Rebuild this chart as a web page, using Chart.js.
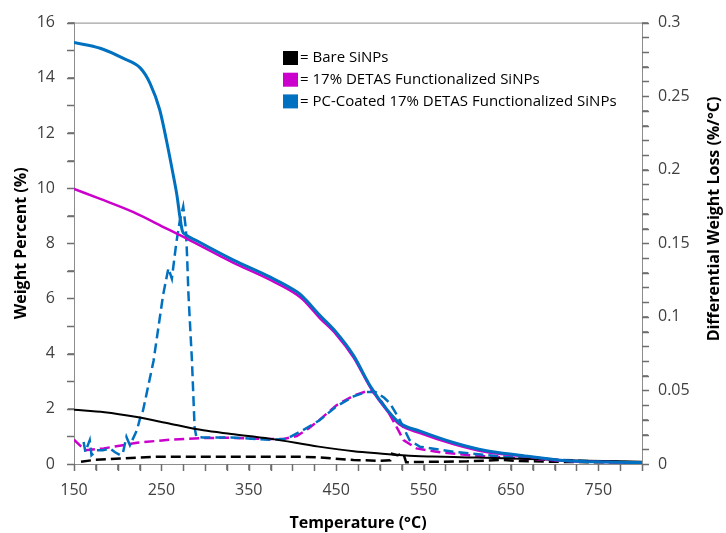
<!DOCTYPE html>
<html>
<head>
<meta charset="utf-8">
<script src="https://cdn.jsdelivr.net/npm/chart.js@4.4.1/dist/chart.umd.min.js"></script>
<style>
  html, body { margin: 0; padding: 0; background: #fff; }
</style>
</head>
<body>
<canvas id="tgaChart" width="726" height="533"></canvas>
<script>
// TGA / DTG curves: weight percent (left axis) and differential weight loss (right axis)

// Bare SiNPs
const bareTemp   = [150, 185, 222, 260, 298, 330, 374, 430, 470, 500, 540, 560, 600, 650, 720, 800];
const bareWeight = [1.97, 1.88, 1.70, 1.46, 1.22, 1.09, 0.92, 0.63, 0.46, 0.38, 0.29, 0.27, 0.24, 0.20, 0.13, 0.08];
const bareDtgTemp = [158, 172, 203, 240, 300, 360, 410, 430, 470, 500, 512, 514, 520, 527, 530, 560, 600, 640, 660, 700, 750, 800];
const bareDtg     = [0.0015, 0.0027, 0.0038, 0.0049, 0.0050, 0.0050, 0.0049, 0.0045, 0.0027, 0.0022, 0.0025, 0.0070, 0.0060, 0.0070, 0.0012, 0.0015, 0.0018, 0.0028, 0.0020, 0.0015, 0.0012, 0.0010];

// 17% DETAS functionalized SiNPs
const detasTemp   = [150, 180, 218, 256, 279, 332, 374, 405, 412, 431, 450, 470, 489, 508, 523, 546, 584, 622, 660, 710, 760, 800];
const detasWeight = [9.97, 9.61, 9.13, 8.53, 8.17, 7.30, 6.68, 6.14, 5.96, 5.30, 4.70, 3.86, 2.78, 1.94, 1.42, 1.12, 0.72, 0.43, 0.30, 0.12, 0.07, 0.04];
const detasDtgTemp = [150, 158, 163, 184, 222, 260, 298, 330, 370, 390, 405, 418, 431, 450, 470, 485, 492, 500, 508, 515, 522, 527, 542, 565, 603, 660, 720, 800];
const detasDtg     = [0.0165, 0.0120, 0.0094, 0.0106, 0.0144, 0.0166, 0.0177, 0.0178, 0.0170, 0.0170, 0.0190, 0.0240, 0.0300, 0.0398, 0.0465, 0.0495, 0.0490, 0.0440, 0.0370, 0.0297, 0.0220, 0.0162, 0.0106, 0.0083, 0.0060, 0.0038, 0.0020, 0.0010];

// PC-coated 17% DETAS functionalized SiNPs
const pcTemp   = [150, 180, 206, 226, 237, 248, 256, 264, 268, 271, 274, 277, 290, 332, 374, 405, 412, 431, 450, 470, 489, 508, 523, 546, 584, 622, 660, 710, 760, 800];
const pcWeight = [15.28, 15.07, 14.71, 14.35, 13.80, 12.85, 11.70, 10.40, 9.70, 9.00, 8.45, 8.33, 8.10, 7.40, 6.78, 6.24, 6.06, 5.40, 4.78, 3.93, 2.83, 1.98, 1.48, 1.19, 0.78, 0.48, 0.32, 0.13, 0.07, 0.05];
const pcDtgTemp = [161, 163, 168, 170, 176, 183, 191, 197, 203, 206, 210, 214, 222, 226, 229, 241, 252, 258, 262, 267, 271, 275, 278, 279.5, 281, 285, 288, 290, 298, 330, 374, 393, 412, 431, 450, 470, 485, 495, 505, 512, 523, 534, 546, 584, 622, 680, 740, 800];
const pcDtg     = [0.0150, 0.0083, 0.0162, 0.0060, 0.0094, 0.0094, 0.0106, 0.0080, 0.0060, 0.0075, 0.0184, 0.0128, 0.0229, 0.0320, 0.0364, 0.0700, 0.1150, 0.1330, 0.1260, 0.1500, 0.1650, 0.1750, 0.1600, 0.1400, 0.1150, 0.0700, 0.0250, 0.0184, 0.0180, 0.0180, 0.0165, 0.0170, 0.0230, 0.0297, 0.0390, 0.0460, 0.0490, 0.0490, 0.0450, 0.0409, 0.0297, 0.0162, 0.0117, 0.0083, 0.0060, 0.0035, 0.0020, 0.0010];

const legendLabels = ['= Bare SiNPs', '= 17% DETAS Functionalized SiNPs', '= PC-Coated 17% DETAS Functionalized SiNPs'];

const BLACK = '#000000';
const MAGENTA = '#CC00CC';
const BLUE = '#0070C0';
const AXIS_GREY = '#8c8c8c';
const TICK_GREY = '#6e6e6e';
const TEXT_GREY = '#404040';
const FONT = "'Open Sans', sans-serif";
const TICK_LEN = 6;

function toPoints(xs, ys) {
    return xs.map((x, i) => ({ x: x, y: ys[i] }));
}

function solidLine(xs, ys, color, width) {
    return {
        data: toPoints(xs, ys), yAxisID: 'y', showLine: true, pointRadius: 0,
        borderColor: color, borderWidth: width, cubicInterpolationMode: 'monotone'
    };
}

function dashedLine(xs, ys, color) {
    return {
        data: toPoints(xs, ys), yAxisID: 'y1', showLine: true, pointRadius: 0,
        borderColor: color, borderWidth: 2.5, borderDash: [10, 5], tension: 0
    };
}

// short outward tick marks at every tick of a scale
function drawTickMarks(ctx, scale) {
    const len = TICK_LEN + 1;
    ctx.beginPath();
    scale.ticks.forEach(t => {
        const p = Math.round(scale.getPixelForValue(t.value)) + 0.5;
        if (scale.axis === 'x') {
            ctx.moveTo(p, scale.top);
            ctx.lineTo(p, scale.top + len);
        } else if (scale.position === 'left') {
            ctx.moveTo(scale.right - len, p);
            ctx.lineTo(scale.right, p);
        } else {
            ctx.moveTo(scale.left, p);
            ctx.lineTo(scale.left + len, p);
        }
    });
    ctx.stroke();
}

// frame top, tick marks, in-plot legend and the right-hand axis title (reads bottom to top)
const decorations = {
    id: 'decorations',
    afterDraw(chart) {
        const { ctx, chartArea } = chart;
        ctx.save();
        ctx.strokeStyle = AXIS_GREY;
        ctx.lineWidth = 1;
        ctx.beginPath();
        ctx.moveTo(chartArea.left, chartArea.top + 0.5);
        ctx.lineTo(chartArea.right, chartArea.top + 0.5);
        ctx.stroke();
        ctx.strokeStyle = TICK_GREY;
        ctx.lineWidth = 1.5;
        ['x', 'y', 'y1'].forEach(id => drawTickMarks(ctx, chart.scales[id]));

        const swatches = [BLACK, MAGENTA, BLUE];
        ctx.font = '15px ' + FONT;
        ctx.textBaseline = 'middle';
        legendLabels.forEach((text, i) => {
            const cy = 58 + i * 21.7;
            ctx.fillStyle = swatches[i];
            ctx.fillRect(283, cy - 7, 15, 14);
            ctx.fillStyle = '#000';
            ctx.fillText(text, 300, cy);
        });

        ctx.translate(714, 219);
        ctx.rotate(-Math.PI / 2);
        ctx.font = 'bold 16px ' + FONT;
        ctx.textAlign = 'center';
        ctx.textBaseline = 'middle';
        ctx.fillStyle = '#000';
        ctx.fillText('Differential Weight Loss (%/°C)', 0, 0);
        ctx.restore();
    }
};

function tickGrid() {
    return { drawOnChartArea: false, drawTicks: true, tickLength: TICK_LEN, color: AXIS_GREY, lineWidth: 1 };
}

new Chart(document.getElementById('tgaChart'), {
    type: 'scatter',
    data: {
        datasets: [
            solidLine(pcTemp, pcWeight, BLUE, 3),
            solidLine(detasTemp, detasWeight, MAGENTA, 2.5),
            solidLine(bareTemp, bareWeight, BLACK, 2),
            dashedLine(pcDtgTemp, pcDtg, BLUE),
            dashedLine(detasDtgTemp, detasDtg, MAGENTA),
            dashedLine(bareDtgTemp, bareDtg, BLACK)
        ]
    },
    options: {
        responsive: false,
        animation: false,
        layout: { padding: { top: 19 } },
        plugins: { legend: { display: false }, tooltip: { enabled: false } },
        scales: {
            x: {
                type: 'linear', min: 150, max: 800,
                grid: tickGrid(),
                border: { color: AXIS_GREY },
                ticks: {
                    stepSize: 25, autoSkip: false, maxRotation: 0, padding: 11,
                    color: TEXT_GREY, font: { family: FONT, size: 16 },
                    callback: v => ((v - 150) % 100 === 0 ? String(v) : '')
                },
                title: {
                    display: true, text: 'Temperature (°C)', color: '#000',
                    font: { family: FONT, size: 16, weight: 'bold' }, padding: { top: 3, bottom: 0 }
                },
                afterFit: s => { s.height = 69; }
            },
            y: {
                position: 'left', min: 0, max: 16,
                grid: tickGrid(),
                border: { color: AXIS_GREY },
                ticks: {
                    stepSize: 1, autoSkip: false, padding: 13,
                    color: TEXT_GREY, font: { family: FONT, size: 16 },
                    callback: v => (v % 2 === 0 ? String(v) : '')
                },
                title: {
                    display: true, text: 'Weight Percent (%)', color: '#000',
                    font: { family: FONT, size: 16, weight: 'bold' }, padding: { top: 12, bottom: 0 }
                },
                afterFit: s => { s.width = 74; }
            },
            y1: {
                position: 'right', min: 0, max: 0.3,
                grid: tickGrid(),
                border: { color: AXIS_GREY },
                ticks: {
                    stepSize: 0.01, autoSkip: false, padding: 10,
                    color: TEXT_GREY, font: { family: FONT, size: 16 },
                    callback: v => {
                        const c = Math.round(v * 100);
                        return c % 5 === 0 ? String(c / 100) : '';
                    }
                },
                afterFit: s => { s.width = 84; }
            }
        }
    },
    plugins: [decorations]
});
</script>
</body>
</html>
